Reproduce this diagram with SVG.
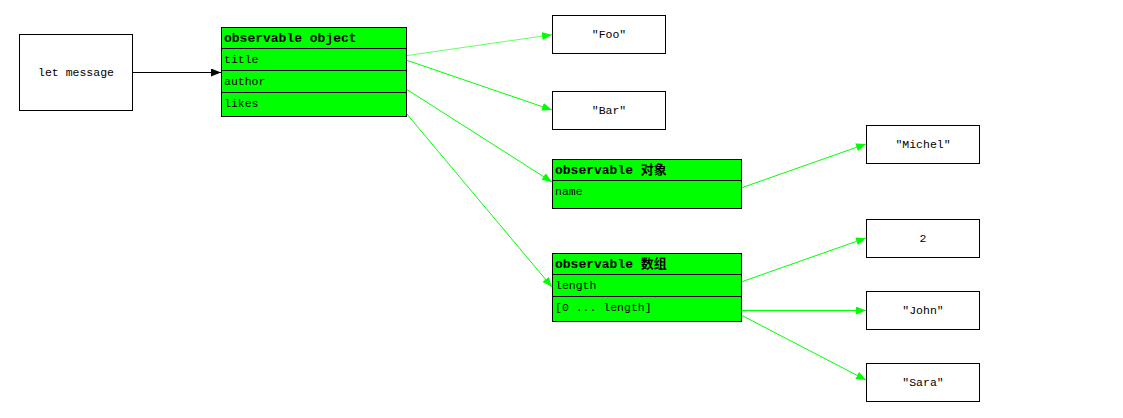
<svg xmlns="http://www.w3.org/2000/svg" width="1123" height="418" viewBox="0 0 1123 418">
<style>
.box{fill:#fff;stroke:#000;stroke-width:1}
.obj{fill:#00ff00;stroke:#000;stroke-width:1}
.t{font-family:"Liberation Mono","Noto Sans CJK SC",monospace;font-size:11.5px;fill:#000}
.h{font-family:"Liberation Mono","Noto Sans CJK SC",monospace;font-size:13px;font-weight:bold;fill:#000}
.c{text-anchor:middle}
.g{stroke:#00ff00;stroke-width:1;fill:none;marker-end:url(#ag)}
.k{stroke:#000;stroke-width:1;fill:none;marker-end:url(#ak)}
</style>
<defs>
<marker id="ag" viewBox="0 0 10 8" refX="10" refY="4" markerWidth="10" markerHeight="8" markerUnits="userSpaceOnUse" orient="auto"><path d="M0,0L10,4L0,8Z" fill="#00ff00"/></marker>
<marker id="ak" viewBox="0 0 10 8" refX="10" refY="4" markerWidth="10" markerHeight="8" markerUnits="userSpaceOnUse" orient="auto"><path d="M0,0L10,4L0,8Z" fill="#000"/></marker>
</defs>
<rect width="1123" height="418" fill="#fff"/>
<g id="connectors">
<line class="k" x1="132.5" y1="72.5" x2="221" y2="72.5"/>
<line class="g" x1="406" y1="55.7" x2="552" y2="34.7" stroke-opacity="0.6"/>
<line class="g" x1="406" y1="60" x2="552" y2="110"/>
<line class="g" x1="406" y1="89" x2="552" y2="182"/>
<line class="g" x1="406" y1="113" x2="552" y2="287"/>
<line class="g" x1="741" y1="188" x2="866" y2="144"/>
<line class="g" x1="741" y1="282" x2="866" y2="238"/>
<line class="g" x1="741" y1="310.5" x2="866" y2="310.5"/>
<line class="g" x1="741" y1="315" x2="866" y2="380"/>
</g>
<g id="let-message">
<rect class="box" x="19.5" y="34.5" width="113" height="76"/>
<text class="t c" x="76" y="76">let message</text>
</g>
<g id="observable-object">
<rect class="obj" x="221.5" y="27.5" width="185" height="89"/>
<line x1="221.5" y1="48.5" x2="406.5" y2="48.5" stroke="#000"/>
<line x1="221.5" y1="70.5" x2="406.5" y2="70.5" stroke="#000"/>
<line x1="221.5" y1="92.5" x2="406.5" y2="92.5" stroke="#000"/>
<text class="h" x="224" y="42">observable object</text>
<text class="t" x="224" y="63">title</text>
<text class="t" x="224" y="85">author</text>
<text class="t" x="224" y="107">likes</text>
</g>
<g id="foo">
<rect class="box" x="552.5" y="15.5" width="113" height="38"/>
<text class="t c" x="609" y="38">"Foo"</text>
</g>
<g id="bar">
<rect class="box" x="552.5" y="91.5" width="113" height="38"/>
<text class="t c" x="609" y="114">"Bar"</text>
</g>
<g id="observable-duixiang">
<rect class="obj" x="552.5" y="159.5" width="189" height="49"/>
<line x1="552.5" y1="180.5" x2="741.5" y2="180.5" stroke="#000"/>
<text class="h" x="555" y="174">observable 对象</text>
<text class="t" x="555" y="195">name</text>
</g>
<g id="observable-shuzu">
<rect class="obj" x="552.5" y="253.5" width="189" height="68"/>
<line x1="552.5" y1="274.5" x2="741.5" y2="274.5" stroke="#000"/>
<line x1="552.5" y1="296.5" x2="741.5" y2="296.5" stroke="#000"/>
<text class="h" x="555" y="268">observable 数组</text>
<text class="t" x="555" y="289">length</text>
<text class="t" x="555" y="311">[0 ... length]</text>
</g>
<g id="michel">
<rect class="box" x="866.5" y="125.5" width="113" height="38"/>
<text class="t c" x="923" y="148">"Michel"</text>
</g>
<g id="two">
<rect class="box" x="866.5" y="219.5" width="113" height="38"/>
<text class="t c" x="923" y="242">2</text>
</g>
<g id="john">
<rect class="box" x="866.5" y="291.5" width="113" height="38"/>
<text class="t c" x="923" y="314">"John"</text>
</g>
<g id="sara">
<rect class="box" x="866.5" y="363.5" width="113" height="38"/>
<text class="t c" x="923" y="386">"Sara"</text>
</g>
</svg>
